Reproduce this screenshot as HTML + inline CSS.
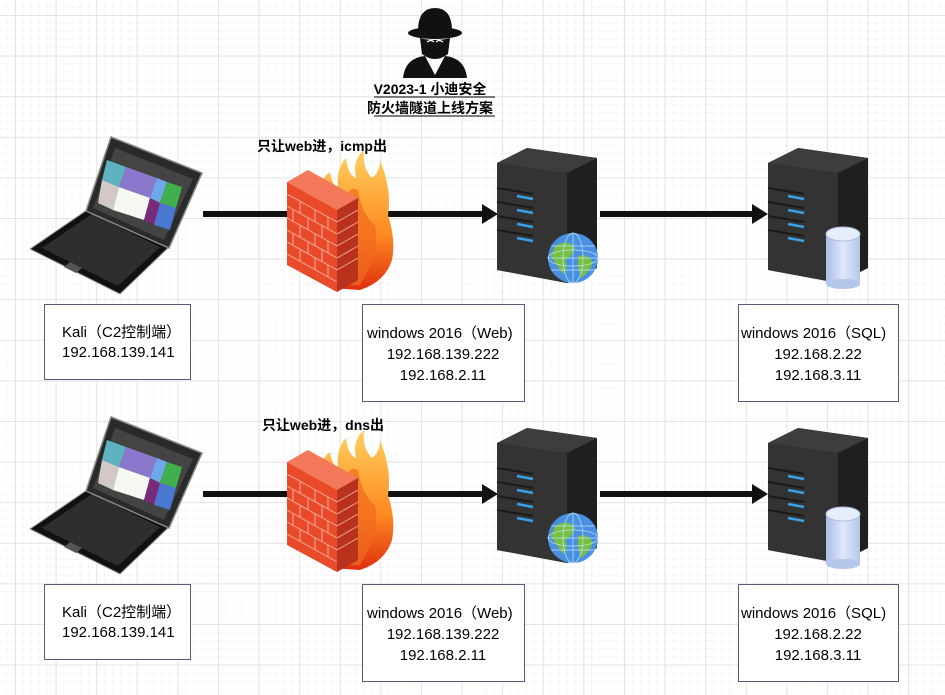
<!DOCTYPE html>
<html><head><meta charset="utf-8"><style>
html,body{margin:0;padding:0;width:945px;height:695px;overflow:hidden;background:#fff;}
.t{font-family:"Liberation Sans","Noto Sans CJK SC",sans-serif;}
</style></head><body>
<svg width="945" height="695" xmlns="http://www.w3.org/2000/svg">
<defs>
<pattern id="minor" x="15" y="15" width="8.12" height="8.12" patternUnits="userSpaceOnUse">
<path d="M0 0H8.12M0 0V8.12" stroke="#f1f1f1" stroke-width="1" fill="none"/>
</pattern>
<pattern id="major" x="15" y="15" width="40.6" height="40.6" patternUnits="userSpaceOnUse">
<path d="M0 0.5H40.6M0.5 0V40.6" stroke="#e3e3e3" stroke-width="1" fill="none"/>
</pattern>
<linearGradient id="fire" x1="0" y1="0" x2="0" y2="1"><stop offset="0" stop-color="#ffd060"/><stop offset="0.6" stop-color="#ff8a20"/><stop offset="1" stop-color="#e03010"/></linearGradient>
<linearGradient id="cyl" x1="0" y1="0" x2="1" y2="0"><stop offset="0" stop-color="#a9bde6"/><stop offset="0.5" stop-color="#dfe8fa"/><stop offset="1" stop-color="#b4c6ea"/></linearGradient>
<g id="laptop">
<polygon points="90,208 170,246 120,294 30,249" fill="#111" stroke="#999" stroke-width="1"/>
<polygon points="92,214 160,247 118,286 42,248" fill="#2e2e2e"/>
<polygon points="70,262 82,268 76,273 64,267" fill="#555"/>
<polygon points="111,137 202,173 169,248 86,211" fill="#2a2a2a" stroke="#888" stroke-width="1.5"/>
<polygon points="115,148 193,179 164,240 93,208" fill="#444"/>
<polygon points="107,160 126,167 119,187 102,180" fill="#5fb3c0"/>
<polygon points="126,167 157,178 150,198 119,187" fill="#8b78cc"/>
<polygon points="157,178 167,182 160,203 150,198" fill="#6fa8e8"/>
<polygon points="167,182 182,187 176,208 160,203" fill="#3fb04c"/>
<polygon points="102,180 119,187 113,210 98,203" fill="#d2c8c8"/>
<polygon points="119,187 150,198 144,220 113,210" fill="#f5f8f0"/>
<polygon points="150,198 160,203 154,225 144,220" fill="#7a2a7a"/>
<polygon points="160,203 176,208 170,230 154,225" fill="#4a78d0"/>
</g>
<g id="fw">
<path d="M322 200 Q318 180 330 172 Q332 185 338 188 Q336 168 346 158 Q348 175 356 178 Q352 160 364 150 Q362 168 372 178 Q380 172 380 160 Q392 190 388 215 Q396 240 392 260 Q385 282 360 290 L330 288 Z" fill="url(#fire)"/>
<path d="M345 200 Q350 185 358 190 Q362 215 375 225 Q380 255 360 285 L340 285Z" fill="#f06a20" opacity="0.7"/>
<polygon points="287,182 308,170 358,198 337,210" fill="#f4785a"/>
<polygon points="287,182 337,210 337,292 287,265" fill="#e84a2a"/>
<polygon points="337,210 358,198 358,280 337,292" fill="#b8321e"/>
<g stroke="#f8c0b0" stroke-width="1" opacity="0.85" fill="none">
<path d="M287 194L337 222M287 206L337 234M287 218L337 246M287 230L337 258M287 242L337 270M287 254L337 282"/>
<path d="M300 201V213M315 210V222M328 217V229M293 209V221M308 218V230M322 226V238M300 225V237M315 234V246M328 241V253M293 233V245M308 242V254M322 250V262M300 249V261M315 258V270M328 265V277"/>
<path d="M337 222L358 210M337 234L358 222M337 246L358 234M337 258L358 246M337 270L358 258"/>
</g>
</g>
<g id="srv">
<polygon points="0,15 30,0 100,10 100,120 70,135 0,122" fill="#2b2b2b"/>
<polygon points="0,15 30,0 100,10 70,25" fill="#3d3d3d"/>
<polygon points="70,25 100,10 100,120 70,135" fill="#202020"/>
<polygon points="0,15 70,25 70,135 0,122" fill="#333"/>
<g stroke="#3aa0e8" stroke-width="2.5"><path d="M20 48L36 51M20 62L36 65M20 76L36 79M20 90L36 93"/></g>
<g stroke="#1a1a1a" stroke-width="2"><path d="M0 40L36 46M0 54L36 60M0 68L36 74M0 82L36 88"/></g>
</g>
<g id="globe">
<circle r="25" fill="#4a90e0"/>
<path d="M-18 -12 Q-5 -20 2 -10 Q-2 0 -8 2 Q-4 12 -10 16 Q-18 5 -22 -2Z M5 -2 Q15 -5 20 5 Q15 15 8 20 Q4 8 5 -2Z" fill="#78c040"/>
<g stroke="#bfe0ff" stroke-width="0.7" fill="none"><ellipse rx="25" ry="8"/><ellipse rx="10" ry="25"/><path d="M-25 0H25M0 -25V25M-22 -12H22M-22 12H22"/></g>
</g>
<g id="db">
<rect x="0" y="8" width="34" height="50" fill="url(#cyl)"/>
<ellipse cx="17" cy="58" rx="17" ry="5" fill="#b4c6ea"/>
<ellipse cx="17" cy="8" rx="17" ry="7" fill="#e6eefc" stroke="#aabbe0"/>
</g>
</defs>
<rect width="945" height="695" fill="url(#minor)"/>
<rect width="945" height="695" fill="url(#major)"/>

<g transform="translate(435,42)">
<ellipse cx="0" cy="-9" rx="27" ry="6" fill="#111"/>
<path d="M-17 -11 Q-17 -34 0 -34 Q17 -34 17 -11Z" fill="#111"/>
<path d="M-15 -4 Q0 0 15 -4 L13 12 Q0 22 -13 12Z" fill="#111"/>
<path d="M-8 0 Q-4 -3 -1 0 M1 0 Q4 -3 8 0" stroke="#fff" stroke-width="1.2" fill="none"/>
<path d="M-32 36 Q-30 16 -10 14 L0 33 L10 14 Q30 16 32 36Z" fill="#111"/>
<path d="M-3 17 L0 32 L3 17Z" fill="#fff"/>
</g>
<text class="t" x="430" y="94" font-size="14" font-weight="bold" text-anchor="middle">V2023-1 小迪安全 </text>
<line x1="374" y1="97" x2="495" y2="97" stroke="#000"/>
<text class="t" x="430" y="113" font-size="14" font-weight="bold" text-anchor="middle">防火墙隧道上线方案</text>
<line x1="374" y1="116" x2="495" y2="116" stroke="#000"/>

<g id="row">
<line x1="203" y1="214" x2="484" y2="214" stroke="#111" stroke-width="6"/>
<polygon points="482,204 498,214 482,224" fill="#111"/>
<use href="#laptop"/>
<use href="#fw"/>
<use href="#srv" x="497" y="148"/>
<use href="#globe" x="573" y="258"/>
<line x1="600" y1="214" x2="755" y2="214" stroke="#111" stroke-width="6"/>
<polygon points="752,204 768,214 752,224" fill="#111"/>
<use href="#srv" x="768" y="148"/>
<use href="#db" x="826" y="226"/>
<rect x="44.5" y="304.5" width="146" height="75" fill="#fff" stroke="#5a5a78"/>
<text class="t" x="62" y="337" font-size="15">Kali（C2控制端）</text>
<text class="t" x="62" y="357" font-size="15">192.168.139.141</text>
<rect x="362.5" y="304.5" width="162" height="97" fill="#fff" stroke="#5a5a78"/>
<text class="t" x="367" y="338" font-size="15">windows 2016（Web)</text>
<text class="t" x="443" y="359" font-size="15" text-anchor="middle">192.168.139.222</text>
<text class="t" x="443" y="380" font-size="15" text-anchor="middle">192.168.2.11</text>
<rect x="738.5" y="304.5" width="160" height="97" fill="#fff" stroke="#5a5a78"/>
<text class="t" x="741" y="338" font-size="15">windows 2016（SQL)</text>
<text class="t" x="818" y="359" font-size="15" text-anchor="middle">192.168.2.22</text>
<text class="t" x="818" y="380" font-size="15" text-anchor="middle">192.168.3.11</text>
</g>
<text class="t" x="322" y="151" font-size="14" font-weight="bold" text-anchor="middle">只让web进，icmp出</text>
<use href="#row" y="280"/>
<text class="t" x="323" y="430" font-size="14" font-weight="bold" text-anchor="middle">只让web进，dns出</text>
</svg>
</body></html>
